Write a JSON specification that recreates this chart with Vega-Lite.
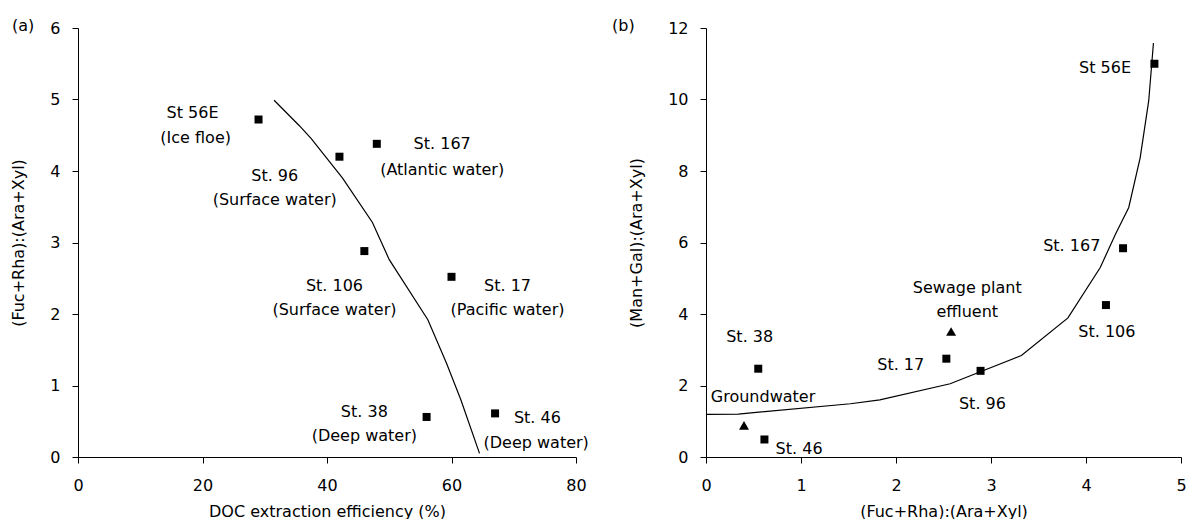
{
  "$schema": "https://vega.github.io/schema/vega-lite/v6.json",
  "padding": {"left": 10, "top": 18, "right": 0, "bottom": 0},
  "spacing": 23,
  "config": {
    "view": {"stroke": null},
    "font": "DejaVu Sans",
    "axis": {
      "grid": false,
      "domainColor": "black",
      "tickColor": "black",
      "tickSize": 6,
      "labelColor": "black",
      "labelFontSize": 16,
      "labelFlush": false,
      "labelOverlap": false,
      "titleColor": "black",
      "titleFontSize": 16,
      "titleFontWeight": "normal",
      "format": "d"
    },
    "axisX": {"labelPadding": 14, "titlePadding": 10},
    "axisY": {"labelPadding": 12, "titlePadding": 23},
    "title": {"fontSize": 16, "fontWeight": "normal", "color": "black", "anchor": "start", "frame": "group"}
  },
  "datasets": {
    "left_curve": [
      {"x": 31.5, "y": 4.99}, {"x": 35.6, "y": 4.63}, {"x": 37.5, "y": 4.45}, {"x": 42.5, "y": 3.9},
      {"x": 47.3, "y": 3.28}, {"x": 50.0, "y": 2.76}, {"x": 56.2, "y": 1.92}, {"x": 59.2, "y": 1.31},
      {"x": 61.5, "y": 0.8}, {"x": 64.5, "y": 0.05}
    ],
    "left_points": [
      {"station": "St 56E", "x": 29, "y": 4.72},
      {"station": "St. 96", "x": 42, "y": 4.2},
      {"station": "St. 167", "x": 48, "y": 4.38},
      {"station": "St. 106", "x": 46, "y": 2.88},
      {"station": "St. 17", "x": 60, "y": 2.52},
      {"station": "St. 38", "x": 56, "y": 0.56},
      {"station": "St. 46", "x": 67, "y": 0.61}
    ],
    "left_labels": [
      {"label": "St 56E", "x": 18.4, "y": 4.81},
      {"label": "(Ice floe)", "x": 18.9, "y": 4.46},
      {"label": "St. 96", "x": 31.6, "y": 3.93},
      {"label": "(Surface water)", "x": 31.6, "y": 3.59},
      {"label": "St. 167", "x": 58.5, "y": 4.38},
      {"label": "(Atlantic water)", "x": 58.5, "y": 4.02},
      {"label": "St. 106", "x": 41.2, "y": 2.39},
      {"label": "(Surface water)", "x": 41.2, "y": 2.06},
      {"label": "St. 17", "x": 69.0, "y": 2.39},
      {"label": "(Pacific water)", "x": 69.0, "y": 2.06},
      {"label": "St. 38", "x": 46.0, "y": 0.63},
      {"label": "(Deep water)", "x": 46.0, "y": 0.3},
      {"label": "St. 46", "x": 73.8, "y": 0.54},
      {"label": "(Deep water)", "x": 73.6, "y": 0.2}
    ],
    "right_curve": [
      {"x": 0, "y": 1.19}, {"x": 0.34, "y": 1.2}, {"x": 1.52, "y": 1.49}, {"x": 1.83, "y": 1.6},
      {"x": 2.57, "y": 2.05}, {"x": 3.32, "y": 2.84}, {"x": 3.81, "y": 3.89}, {"x": 4.15, "y": 5.3},
      {"x": 4.31, "y": 6.23}, {"x": 4.45, "y": 6.98}, {"x": 4.57, "y": 8.37}, {"x": 4.66, "y": 9.96},
      {"x": 4.71, "y": 11.58}
    ],
    "right_points": [
      {"station": "St 56E", "kind": "Station", "x": 4.72, "y": 11.0},
      {"station": "St. 167", "kind": "Station", "x": 4.39, "y": 5.84},
      {"station": "St. 106", "kind": "Station", "x": 4.21, "y": 4.25},
      {"station": "St. 96", "kind": "Station", "x": 2.89, "y": 2.41},
      {"station": "St. 17", "kind": "Station", "x": 2.53, "y": 2.75},
      {"station": "St. 38", "kind": "Station", "x": 0.55, "y": 2.47},
      {"station": "St. 46", "kind": "Station", "x": 0.615, "y": 0.49},
      {"station": "Sewage plant effluent", "kind": "Reference", "x": 2.58, "y": 3.51},
      {"station": "Groundwater", "kind": "Reference", "x": 0.4, "y": 0.885}
    ],
    "right_labels": [
      {"label": "St 56E", "x": 4.2, "y": 10.88},
      {"label": "St. 167", "x": 3.85, "y": 5.91},
      {"label": "St. 106", "x": 4.22, "y": 3.51},
      {"label": "Sewage plant", "x": 2.75, "y": 4.73},
      {"label": "effluent", "x": 2.75, "y": 4.05},
      {"label": "St. 17", "x": 2.05, "y": 2.58},
      {"label": "St. 96", "x": 2.91, "y": 1.49},
      {"label": "St. 38", "x": 0.46, "y": 3.37},
      {"label": "Groundwater", "x": 0.6, "y": 1.67},
      {"label": "St. 46", "x": 0.98, "y": 0.23}
    ]
  },
  "hconcat": [
    {
      "width": 498,
      "height": 429,
      "title": {"text": "(a)", "dx": -66, "offset": -14},
      "layer": [
        {
          "data": {"name": "left_curve"},
          "mark": {"type": "line", "color": "black", "strokeWidth": 1.2, "interpolate": "linear"},
          "encoding": {
            "x": {"field": "x", "type": "quantitative", "scale": {"domain": [0, 80]},
                  "axis": {"title": "DOC extraction efficiency (%)", "values": [0, 20, 40, 60, 80]}},
            "y": {"field": "y", "type": "quantitative", "scale": {"domain": [0, 6]},
                  "axis": {"title": "(Fuc+Rha):(Ara+Xyl)", "values": [0, 1, 2, 3, 4, 5, 6]}}
          }
        },
        {
          "data": {"name": "left_points"},
          "mark": {"type": "point", "shape": "square", "filled": true, "color": "black", "size": 64, "opacity": 1},
          "encoding": {
            "x": {"field": "x", "type": "quantitative"},
            "y": {"field": "y", "type": "quantitative"}
          }
        },
        {
          "data": {"name": "left_labels"},
          "mark": {"type": "text", "fontSize": 16, "color": "black", "align": "center", "baseline": "middle"},
          "encoding": {
            "x": {"field": "x", "type": "quantitative"},
            "y": {"field": "y", "type": "quantitative"},
            "text": {"field": "label"}
          }
        }
      ]
    },
    {
      "width": 475,
      "height": 429,
      "title": {"text": "(b)", "dx": -94, "offset": -14},
      "layer": [
        {
          "data": {"name": "right_curve"},
          "mark": {"type": "line", "color": "black", "strokeWidth": 1.2, "interpolate": "linear"},
          "encoding": {
            "x": {"field": "x", "type": "quantitative", "scale": {"domain": [0, 5]},
                  "axis": {"title": "(Fuc+Rha):(Ara+Xyl)", "values": [0, 1, 2, 3, 4, 5]}},
            "y": {"field": "y", "type": "quantitative", "scale": {"domain": [0, 12]},
                  "axis": {"title": "(Man+Gal):(Ara+Xyl)", "values": [0, 2, 4, 6, 8, 10, 12]}}
          }
        },
        {
          "data": {"name": "right_points"},
          "mark": {"type": "point", "filled": true, "color": "black", "opacity": 1},
          "encoding": {
            "x": {"field": "x", "type": "quantitative"},
            "y": {"field": "y", "type": "quantitative"},
            "shape": {"field": "kind", "type": "nominal",
                      "scale": {"domain": ["Station", "Reference"], "range": ["square", "triangle-up"]},
                      "legend": null},
            "size": {"field": "kind", "type": "ordinal",
                     "scale": {"domain": ["Station", "Reference"], "range": [64, 100]},
                     "legend": null}
          }
        },
        {
          "data": {"name": "right_labels"},
          "mark": {"type": "text", "fontSize": 16, "color": "black", "align": "center", "baseline": "middle"},
          "encoding": {
            "x": {"field": "x", "type": "quantitative"},
            "y": {"field": "y", "type": "quantitative"},
            "text": {"field": "label"}
          }
        }
      ]
    }
  ]
}
